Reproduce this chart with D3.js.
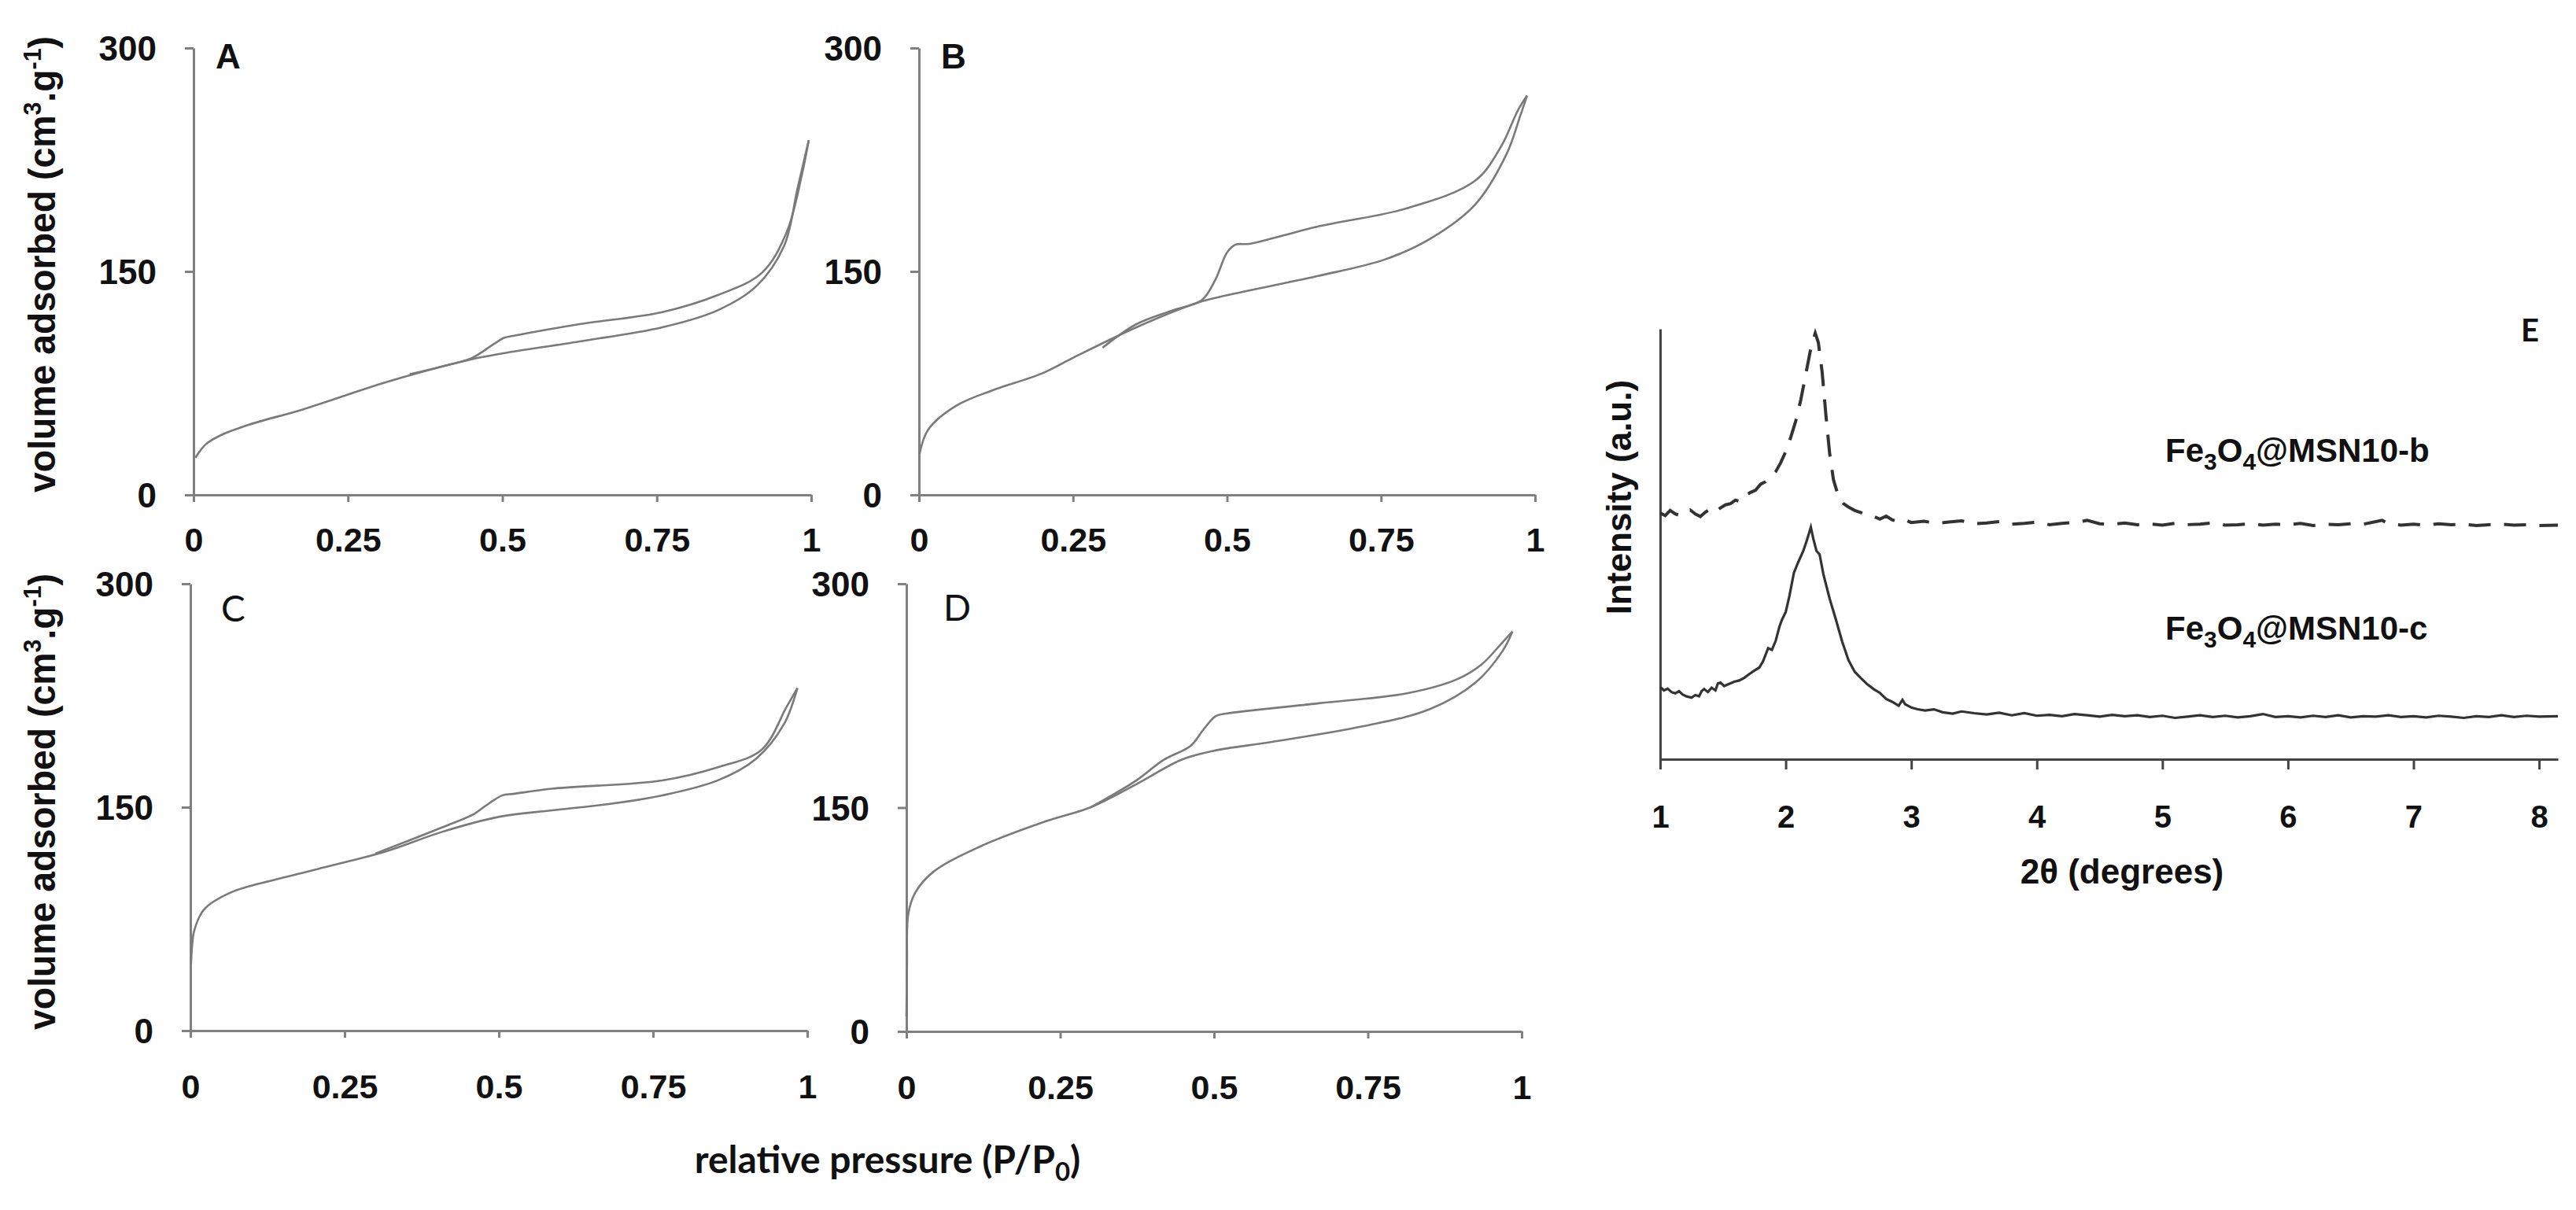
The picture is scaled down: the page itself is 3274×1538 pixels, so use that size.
<!DOCTYPE html>
<html>
<head>
<meta charset="utf-8">
<script src="https://cdn.jsdelivr.net/npm/d3@7"></script>
<style>
  body { margin: 0; background: #fff; }
  svg { display: block; }
</style>
</head>
<body>
<div id="fig"></div>
<script>
// tick values
const pressureTicks = [0, 0.25, 0.5, 0.75, 1];
const volumeTicks = [0, 150, 300];
const twoThetaTicks = [1, 2, 3, 4, 5, 6, 7, 8];

// N2 isotherms, [P/P0, volume cm3/g]
const isoA_ads = [[0.003,25],[0.02,34],[0.044,40],[0.089,47],[0.178,57.5],[0.312,75.7],[0.446,90.6],[0.504,95.2],[0.625,103],[0.759,112.5],[0.848,123.8],[0.911,140],[0.956,167],[0.978,206],[0.996,238]];
const isoA_des = [[0.35,81],[0.40,86],[0.451,92],[0.485,101],[0.504,105.6],[0.517,106.7],[0.625,114.6],[0.759,122.7],[0.848,134],[0.92,149],[0.96,176],[0.985,215],[0.996,238]];

const isoB_ads = [[0.001,27.6],[0.015,43.8],[0.06,59.7],[0.118,70],[0.199,81.4],[0.25,92],[0.353,112.5],[0.456,129.5],[0.5,134],[0.646,146.8],[0.756,158],[0.83,172],[0.903,195],[0.954,229],[0.976,254.5],[0.987,268]];
const isoB_des = [[0.298,98.8],[0.353,114.6],[0.411,123.8],[0.459,130.7],[0.481,144.4],[0.5,162.7],[0.514,168],[0.536,168.5],[0.646,180],[0.793,192.5],[0.903,211],[0.945,234],[0.972,258],[0.987,268]];

const isoC_ads = [[0.001,45],[0.003,58],[0.006,66.9],[0.022,81.3],[0.067,93],[0.139,101.5],[0.25,113],[0.318,120.4],[0.407,133.3],[0.501,143.6],[0.586,147.9],[0.676,152],[0.765,157.9],[0.855,168],[0.917,182.5],[0.962,205.6],[0.984,230]];
const isoC_des = [[0.30,118.9],[0.407,136.3],[0.46,145.5],[0.478,150.8],[0.506,158],[0.523,158.9],[0.586,162.4],[0.765,168],[0.855,176.8],[0.926,188.6],[0.966,217],[0.984,230]];

const isoD_ads = [[0.0,10],[0.001,45],[0.003,78.5],[0.014,92.7],[0.043,106.7],[0.117,123.4],[0.227,140.9],[0.3,150.3],[0.373,165.5],[0.447,182],[0.499,188],[0.594,194],[0.741,204.4],[0.851,216],[0.925,233.8],[0.969,255],[0.985,268]];
const isoD_des = [[0.30,150.3],[0.373,168],[0.418,182],[0.462,191.4],[0.484,203],[0.503,211.4],[0.52,213],[0.668,219.8],[0.815,226.7],[0.895,236],[0.935,246],[0.965,259],[0.985,268]];

// low angle XRD, [2theta, intensity a.u.]
const xrdB = [[1.00,57.2],[1.04,56.6],[1.08,57.8],[1.12,57.0],[1.16,56.6],[1.20,57.3],[1.24,57.9],[1.28,57.0],[1.32,56.4],[1.36,57.4],[1.40,58.2],[1.44,57.5],[1.48,58.4],[1.52,59.1],[1.56,59.4],[1.60,60.2],[1.64,59.8],[1.68,61.3],[1.72,62.0],[1.76,62.5],[1.80,63.9],[1.84,64.5],[1.88,65.7],[1.92,66.8],[1.96,68.9],[2.00,71.5],[2.04,74.8],[2.08,78.6],[2.12,83.5],[2.16,89.5],[2.20,95.5],[2.235,99.0],[2.26,96.8],[2.29,90.0],[2.32,80.0],[2.35,71.0],[2.38,65.0],[2.42,61.0],[2.46,59.4],[2.50,58.6],[2.55,57.8],[2.60,57.3],[2.65,56.6],[2.70,56.4],[2.75,55.8],[2.80,56.5],[2.85,55.6],[2.90,55.2],[2.95,55.6],[3.00,55.0],[3.10,55.3],[3.20,54.8],[3.30,55.1],[3.40,55.4],[3.50,54.7],[3.60,54.9],[3.70,55.2],[3.80,54.6],[3.90,54.8],[4.00,55.1],[4.10,54.5],[4.20,54.8],[4.30,55.0],[4.40,55.5],[4.50,54.7],[4.60,54.6],[4.70,54.9],[4.80,54.5],[4.90,54.7],[5.00,54.4],[5.10,54.8],[5.20,54.5],[5.30,54.6],[5.40,54.9],[5.50,54.4],[5.60,54.5],[5.70,54.7],[5.80,54.4],[5.90,54.6],[6.00,54.5],[6.10,54.8],[6.20,54.3],[6.30,54.6],[6.40,54.5],[6.50,54.7],[6.60,54.6],[6.70,55.2],[6.75,55.5],[6.80,54.7],[6.90,54.4],[7.00,54.6],[7.10,54.4],[7.20,54.7],[7.30,54.5],[7.40,54.6],[7.50,54.3],[7.60,54.5],[7.70,54.6],[7.80,54.4],[7.90,54.5],[8.00,54.3],[8.15,54.4]];

const xrdC = [[1.00,16.8],[1.03,16.0],[1.06,16.4],[1.09,15.6],[1.12,15.3],[1.15,15.8],[1.18,15.0],[1.21,14.6],[1.25,14.3],[1.28,14.9],[1.31,14.6],[1.33,15.8],[1.35,16.3],[1.38,15.6],[1.41,16.6],[1.44,16.0],[1.46,17.6],[1.48,17.8],[1.51,17.0],[1.55,17.5],[1.59,18.0],[1.63,18.3],[1.67,18.9],[1.71,19.8],[1.75,20.6],[1.79,21.3],[1.82,22.8],[1.86,25.8],[1.89,25.4],[1.92,27.5],[1.95,30.8],[1.97,32.4],[2.00,34.2],[2.03,38.0],[2.065,43.3],[2.10,45.8],[2.14,48.4],[2.17,51.0],[2.20,53.9],[2.22,51.2],[2.245,48.4],[2.27,47.6],[2.30,43.0],[2.35,37.3],[2.40,32.4],[2.45,27.3],[2.50,23.0],[2.55,20.3],[2.60,18.8],[2.65,17.4],[2.70,16.3],[2.75,15.4],[2.80,14.0],[2.85,13.3],[2.90,12.4],[2.93,13.8],[2.95,12.8],[3.00,12.0],[3.05,11.6],[3.11,11.3],[3.18,11.6],[3.25,10.9],[3.33,10.6],[3.40,11.1],[3.50,10.7],[3.60,10.4],[3.70,10.8],[3.80,10.2],[3.90,10.7],[4.00,10.1],[4.10,10.3],[4.20,10.0],[4.30,10.5],[4.40,10.2],[4.50,9.9],[4.60,10.3],[4.70,10.0],[4.80,10.2],[4.90,9.8],[5.00,10.1],[5.10,9.6],[5.20,9.9],[5.30,10.2],[5.40,9.8],[5.50,10.1],[5.60,9.7],[5.70,10.0],[5.80,10.5],[5.90,9.8],[6.00,10.0],[6.10,9.7],[6.20,10.1],[6.30,9.8],[6.40,10.2],[6.50,9.7],[6.60,10.0],[6.70,9.9],[6.80,10.2],[6.90,9.8],[7.00,10.0],[7.10,9.7],[7.20,10.1],[7.30,9.9],[7.40,9.6],[7.50,10.0],[7.60,9.8],[7.70,10.2],[7.80,9.8],[7.90,10.1],[8.00,9.9],[8.15,10.0]];

const W = 3274, H = 1538;
const axisGrey = '#808080', curveGrey = '#7a7a7a';

const svg = d3.select('#fig').append('svg')
  .attr('width', W)
  .attr('height', H)
  .attr('viewBox', [0, 0, W, H]);

// isotherm panels A-D
const panels = [
  {name: 'A', ads: isoA_ads, des: isoA_des, left: 246, right: 1031, bottom: 629, top: 61, tickPad: 32, bold: true, lx: 28, ly: 26},
  {name: 'B', ads: isoB_ads, des: isoB_des, left: 1168, right: 1951, bottom: 629, top: 61, tickPad: 32, bold: true, lx: 28, ly: 26},
  {name: 'C', ads: isoC_ads, des: isoC_des, left: 242, right: 1026, bottom: 1310, top: 742, tickPad: 46, bold: false, lx: 39, ly: 48},
  {name: 'D', ads: isoD_ads, des: isoD_des, left: 1152, right: 1934, bottom: 1311, top: 742, tickPad: 46, bold: false, lx: 47, ly: 47}
];

function styleAxis(g) {
  g.select('.domain').attr('stroke', axisGrey).attr('stroke-width', 3);
  g.selectAll('.tick line').attr('stroke', axisGrey).attr('stroke-width', 3);
  g.selectAll('.tick text')
    .attr('fill', '#111')
    .style('font-family', '"Liberation Sans", Arial, sans-serif')
    .style('font-weight', 'bold');
}

panels.forEach(p => {
  const x = d3.scaleLinear().domain([0, 1]).range([p.left, p.right]);
  const y = d3.scaleLinear().domain([0, 300]).range([p.bottom, p.top]);

  svg.append('g')
    .attr('transform', `translate(0,${p.bottom})`)
    .call(d3.axisBottom(x).tickValues(pressureTicks).tickSize(9).tickSizeOuter(0)
      .tickPadding(p.tickPad).tickFormat(d => String(d)))
    .call(styleAxis)
    .call(g => g.selectAll('.tick text').style('font-size', '43px'));

  svg.append('g')
    .attr('transform', `translate(${p.left},0)`)
    .call(d3.axisLeft(y).tickValues(volumeTicks).tickSize(11).tickSizeOuter(0)
      .tickPadding(36).tickFormat(d => String(d)))
    .call(styleAxis)
    .call(g => g.selectAll('.tick text').style('font-size', '44px').attr('dy', '0.36em'));

  const line = d3.line()
    .x(d => x(d[0]))
    .y(d => y(d[1]))
    .curve(d3.curveCatmullRom.alpha(0.5));

  svg.append('g')
    .selectAll('path')
    .data([p.ads, p.des])
    .join('path')
    .attr('d', line)
    .attr('fill', 'none')
    .attr('stroke', curveGrey)
    .attr('stroke-width', 2.6);

  // panel letter
  svg.append('text')
    .attr('x', p.left + p.lx)
    .attr('y', p.top + p.ly)
    .attr('fill', '#111')
    .style('font-family', p.bold ? '"Liberation Sans", Arial, sans-serif' : 'Lato, "Open Sans", sans-serif')
    .style('font-weight', p.bold ? 'bold' : 'normal')
    .style('font-size', p.bold ? '44px' : '46px')
    .text(p.name);
});

// shared y titles for the isotherm rows
[336, 1019].forEach(cy => {
  const t = svg.append('text')
    .attr('transform', `translate(70,${cy}) rotate(-90)`)
    .attr('text-anchor', 'middle')
    .attr('textLength', 580)
    .attr('lengthAdjust', 'spacingAndGlyphs')
    .attr('fill', '#111')
    .style('font-family', '"Liberation Sans", Arial, sans-serif')
    .style('font-weight', 'bold')
    .style('font-size', '49px');
  t.append('tspan').text('volume adsorbed (cm');
  t.append('tspan').attr('dy', -18).style('font-size', '32px').text('3');
  t.append('tspan').attr('dy', 18).text('.g');
  t.append('tspan').attr('dy', -18).style('font-size', '32px').text('-1');
  t.append('tspan').attr('dy', 18).text(')');
});

// shared x title
const xt = svg.append('text')
  .attr('x', 1128)
  .attr('y', 1491)
  .attr('text-anchor', 'middle')
  .attr('fill', '#111')
  .style('font-family', 'Lato, "Open Sans", sans-serif')
  .style('font-weight', 'bold')
  .style('font-size', '48px');
xt.append('tspan').text('relative pressure (P/P');
xt.append('tspan').attr('dy', 10).style('font-size', '33px').text('0');
xt.append('tspan').attr('dy', -10).text(')');

// panel E: XRD
const ex = d3.scaleLinear().domain([1, 8.15]).range([2110, 3251]);
const ey = d3.scaleLinear().domain([0, 100]).range([965, 418]);

svg.append('g')
  .attr('transform', 'translate(0,965)')
  .call(d3.axisBottom(ex).tickValues(twoThetaTicks).tickSize(13).tickSizeOuter(0)
    .tickPadding(46).tickFormat(d => String(d)))
  .call(styleAxis)
  .call(g => g.select('.domain').attr('stroke', '#444'))
  .call(g => g.selectAll('.tick line').attr('stroke', '#444'))
  .call(g => g.selectAll('.tick text').style('font-size', '40px'));

svg.append('g')
  .attr('transform', 'translate(2110,0)')
  .call(d3.axisLeft(ey).tickValues([]).tickSizeOuter(0))
  .call(styleAxis)
  .call(g => g.select('.domain').attr('stroke', '#444'));

const xrdLine = d3.line()
  .x(d => ex(d[0]))
  .y(d => ey(d[1]));

svg.append('path')
  .datum(xrdB)
  .attr('d', xrdLine)
  .attr('fill', 'none')
  .attr('stroke', '#333')
  .attr('stroke-width', 4)
  .attr('stroke-dasharray', '28,17');

svg.append('path')
  .datum(xrdC)
  .attr('d', xrdLine)
  .attr('fill', 'none')
  .attr('stroke', '#333')
  .attr('stroke-width', 3.2);

// sample labels
[['b', 587], ['c', 813]].forEach(([s, yb]) => {
  const t = svg.append('text')
    .attr('x', 2752)
    .attr('y', yb)
    .attr('fill', '#111')
    .style('font-family', '"Liberation Sans", Arial, sans-serif')
    .style('font-weight', 'bold')
    .style('font-size', '42px');
  t.append('tspan').text('Fe');
  t.append('tspan').attr('dy', 10).style('font-size', '30px').text('3');
  t.append('tspan').attr('dy', -10).text('O');
  t.append('tspan').attr('dy', 10).style('font-size', '30px').text('4');
  t.append('tspan').attr('dy', -10).text('@MSN10-' + s);
});

svg.append('text')
  .attr('x', 3204)
  .attr('y', 434)
  .attr('fill', '#111')
  .style('font-family', 'Lato, "Open Sans", sans-serif')
  .style('font-weight', 'bold')
  .style('font-size', '40px')
  .text('E');

svg.append('text')
  .attr('transform', 'translate(2073,632) rotate(-90)')
  .attr('text-anchor', 'middle')
  .attr('fill', '#111')
  .style('font-family', '"Liberation Sans", Arial, sans-serif')
  .style('font-weight', 'bold')
  .style('font-size', '44px')
  .text('Intensity (a.u.)');

svg.append('text')
  .attr('x', 2697)
  .attr('y', 1123)
  .attr('text-anchor', 'middle')
  .attr('fill', '#111')
  .style('font-family', '"Liberation Sans", Arial, sans-serif')
  .style('font-weight', 'bold')
  .style('font-size', '44px')
  .text('2θ (degrees)');
</script>
</body>
</html>
